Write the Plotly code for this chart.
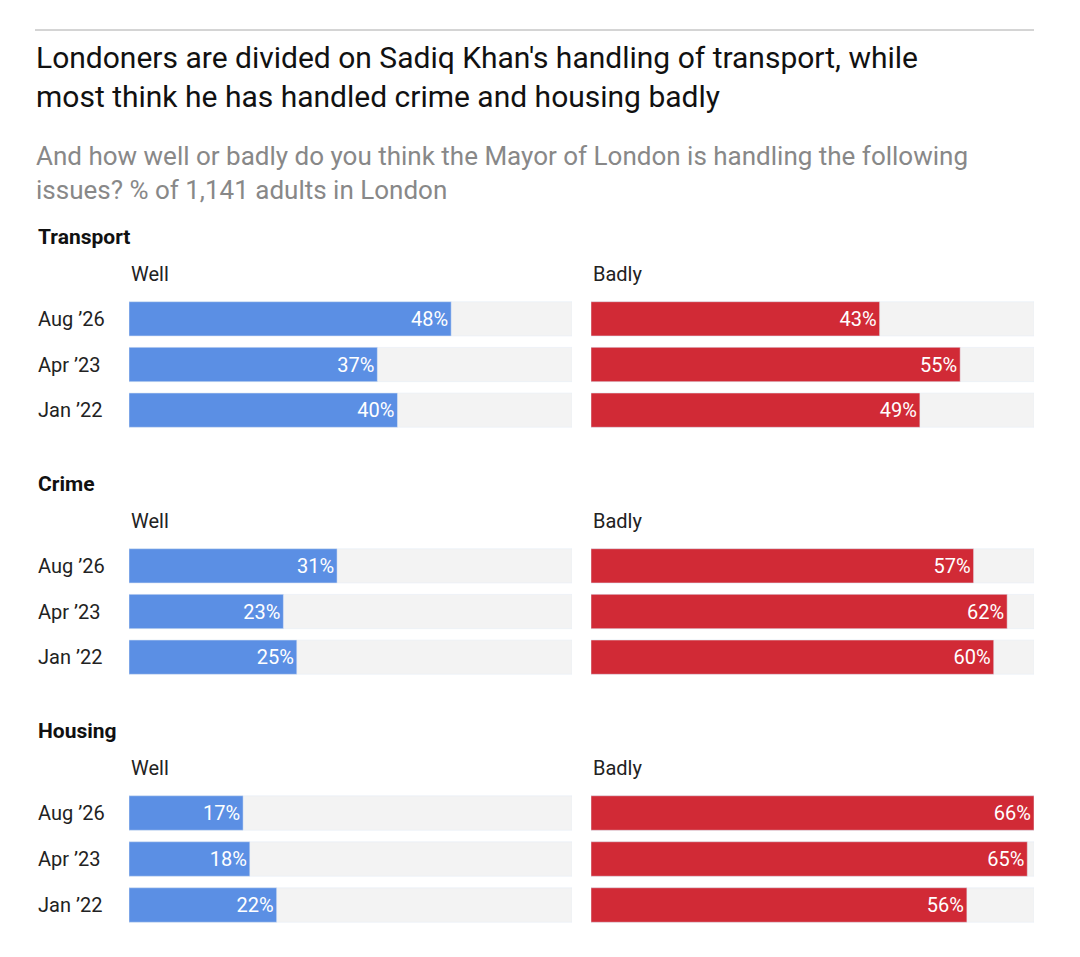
import plotly.graph_objects as go

# ============================================
# DATA
# ============================================
issues = ['Transport', 'Crime', 'Housing']
waves = ['Aug ’26', 'Apr ’23', 'Jan ’22']
well = {
    'Transport': [48, 37, 40],
    'Crime':     [31, 23, 25],
    'Housing':   [17, 18, 22],
}
badly = {
    'Transport': [43, 55, 49],
    'Crime':     [57, 62, 60],
    'Housing':   [66, 65, 56],
}
track_max = 66

W, H = 1080, 957
OFF = 8  # page body margin
BLUE, RED, TRACK = '#5b8fe4', '#d12a36', '#f3f3f3'
FONT = 'Roboto'

def px_x(p): return (p - OFF) / W
def px_y(p): return 1 - (p - OFF) / H

# pixel tops / bottoms of each group's bar area
groups_px = [(296, 433), (543, 680), (790, 928)]
cols_px = [(129, 572), (591, 1034)]

fig = go.Figure()
n = 0
for gi, issue in enumerate(issues):
    top, bot = groups_px[gi]
    for ci, (vals, color) in enumerate([(well[issue], BLUE), (badly[issue], RED)]):
        n += 1
        xa = 'x' if n == 1 else f'x{n}'
        ya = 'y' if n == 1 else f'y{n}'
        fig.add_trace(go.Bar(
            x=[track_max] * 3, y=waves, orientation='h',
            marker=dict(color=TRACK), hoverinfo='skip',
            xaxis=xa, yaxis=ya, showlegend=False))
        fig.add_trace(go.Bar(
            x=vals, y=waves, orientation='h',
            marker=dict(color=color),
            text=[f'{v}%' for v in vals], textposition='inside',
            insidetextanchor='end',
            textfont=dict(color='white', size=20, family=FONT),
            xaxis=xa, yaxis=ya, showlegend=False))
        x0, x1 = cols_px[ci]
        fig.layout[f'xaxis{n if n > 1 else ""}'] = dict(
            domain=[px_x(x0), px_x(x1)], range=[0, track_max],
            visible=False, fixedrange=True)
        fig.layout[f'yaxis{n if n > 1 else ""}'] = dict(
            domain=[px_y(bot), px_y(top)], anchor=xa,
            categoryorder='array', categoryarray=waves[::-1],
            showticklabels=False, ticks='', showgrid=False,
            zeroline=False, fixedrange=True)
        fig.add_annotation(
            xref='paper', yref='paper', x=px_x(x0), y=px_y(top - 22),
            text=['Well', 'Badly'][ci], showarrow=False,
            xanchor='left', yanchor='middle',
            font=dict(size=20, color='#222', family=FONT))
    # left-aligned row labels
    for wv in waves:
        fig.add_annotation(
            xref='paper', yref=ya, x=px_x(36), y=wv,
            text=wv, showarrow=False, xanchor='left', yanchor='middle',
            font=dict(size=20, color='#222', family=FONT))
    fig.add_annotation(
        xref='paper', yref='paper', x=px_x(36), y=px_y(top - 59),
        text=f'<b>{issue}</b>', showarrow=False,
        xanchor='left', yanchor='middle',
        font=dict(size=21, color='#111', family=FONT))

fig.add_annotation(
    xref='paper', yref='paper', x=px_x(34), y=px_y(77),
    text="Londoners are divided on Sadiq Khan's handling of transport, while<br>"
         "most think he has handled crime and housing badly",
    showarrow=False, xanchor='left', yanchor='middle', align='left',
    font=dict(size=30, color='#111', family=FONT))
fig.add_annotation(
    xref='paper', yref='paper', x=px_x(34), y=px_y(173),
    text='And how well or badly do you think the Mayor of London is handling the following<br>'
         'issues? % of 1,141 adults in London',
    showarrow=False, xanchor='left', yanchor='middle', align='left',
    font=dict(size=26, color='#888', family=FONT))
fig.add_shape(type='line', xref='paper', yref='paper',
              x0=px_x(35), x1=px_x(1034), y0=px_y(30), y1=px_y(30),
              line=dict(color='#aaa', width=1))

fig.update_layout(
    width=W, height=H, barmode='overlay', bargap=0.25,
    paper_bgcolor='white', plot_bgcolor='white',
    margin=dict(t=0, b=0, l=0, r=0),
    font=dict(family=FONT),
)

fig.write_html("out.html")
